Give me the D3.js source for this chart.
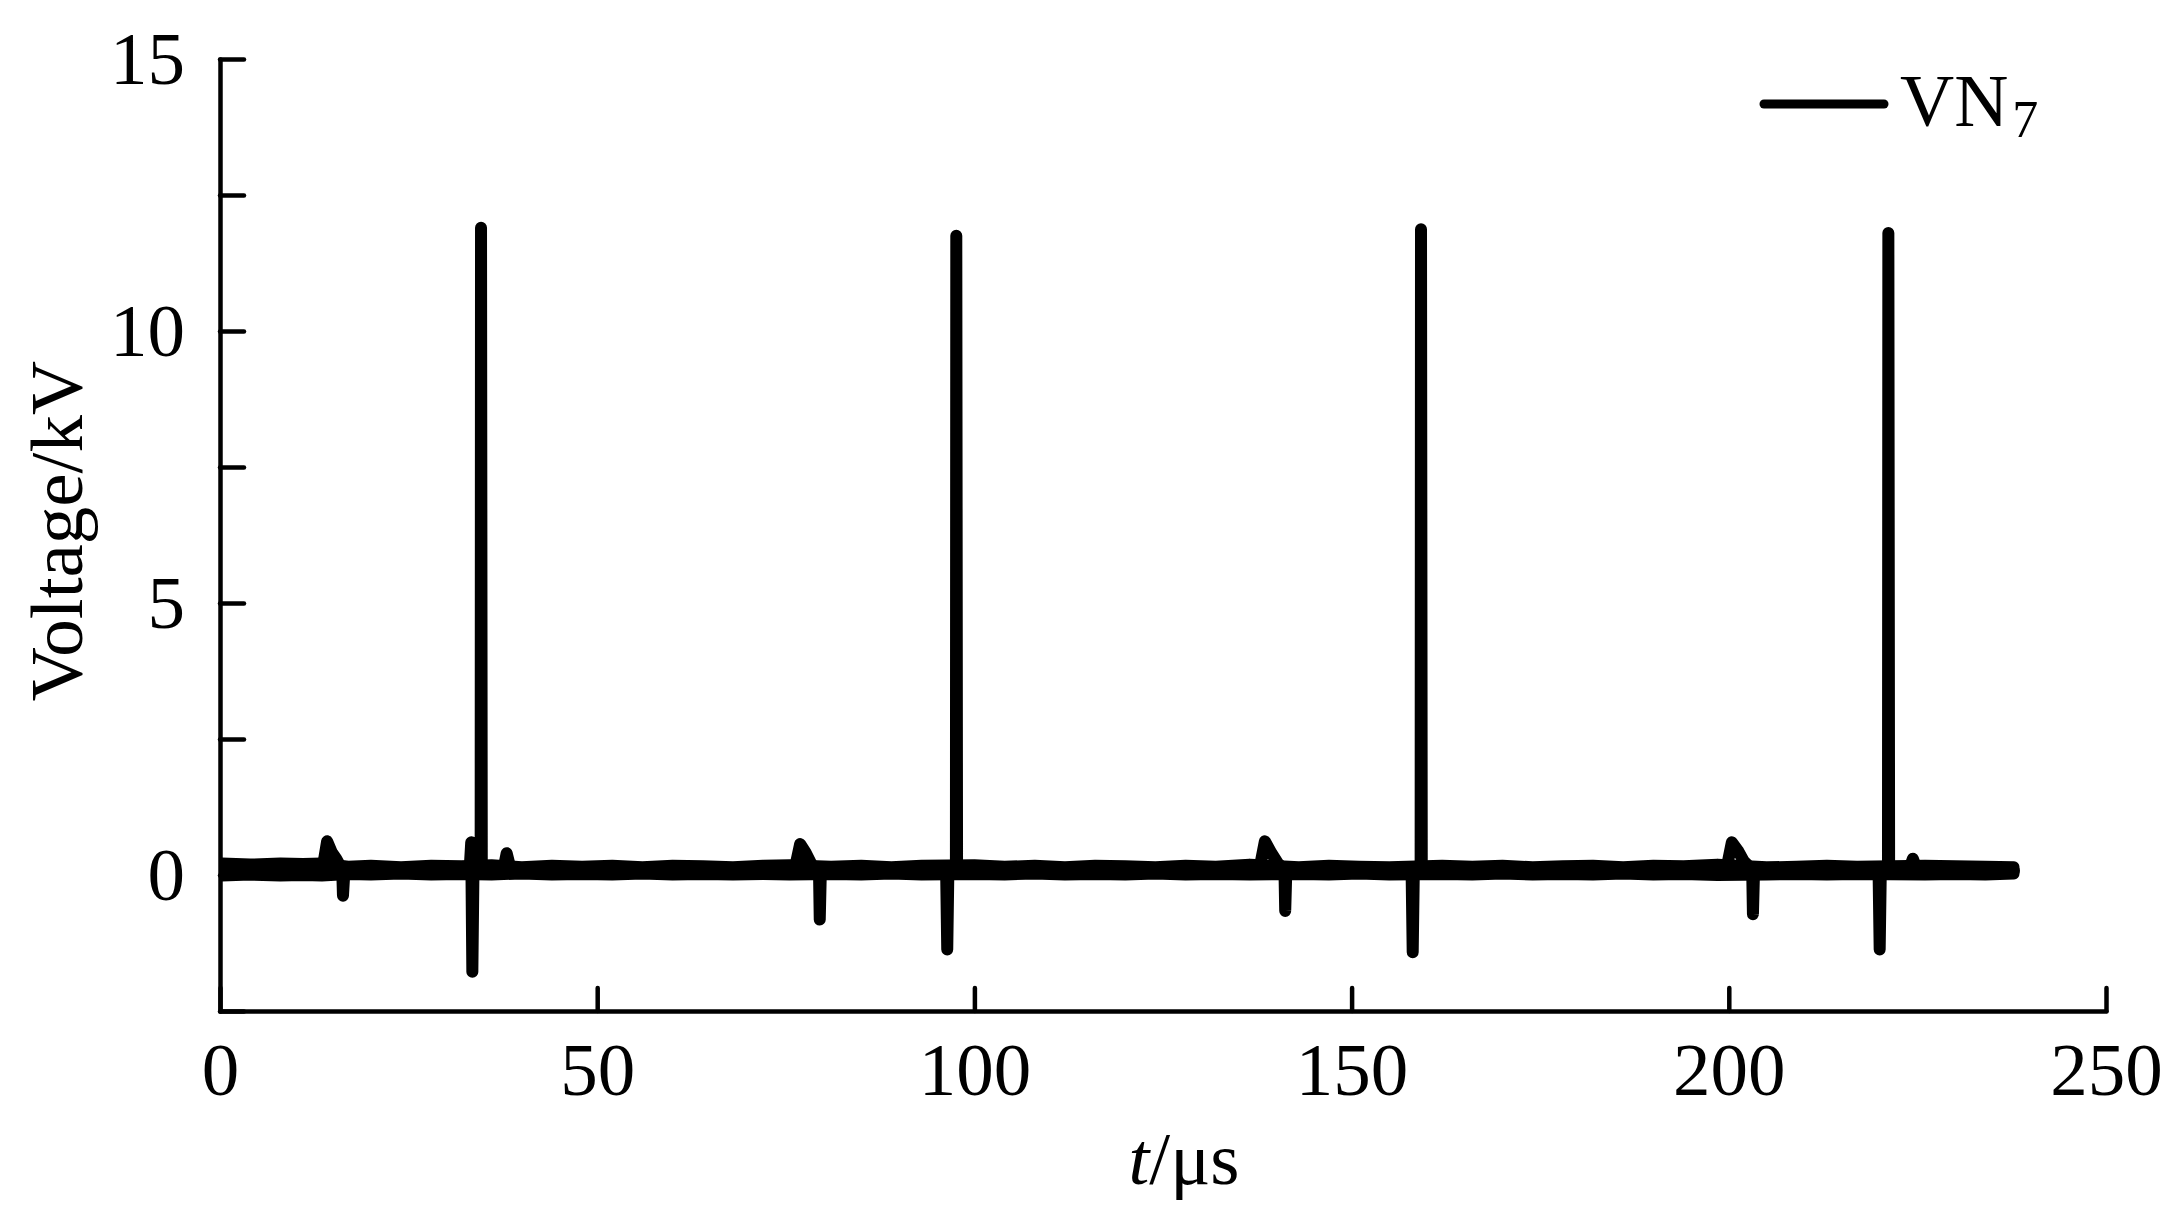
<!DOCTYPE html>
<html>
<head>
<meta charset="utf-8">
<script src="https://cdn.jsdelivr.net/npm/d3@7"></script>
<style>
  html, body { margin: 0; padding: 0; background: #fff; }
  svg { display: block; }
  text { font-family: "Liberation Serif", "Times New Roman", serif; fill: #000; }
</style>
</head>
<body>
<script>
// ---- Data ----
const timeUs = [
  0, 5, 10, 13.6, 14.2, 14.8, 15.4, 16.2, 16.3, 16.5, 20, 25, 30,
  33.1, 33.3, 33.45, 33.6, 34.55, 34.6, 34.7, 37.6, 38.0, 38.5, 45, 55, 65,
  76.2, 76.9, 77.6, 78.4, 79.4, 79.5, 79.65, 85, 90,
  96.25, 96.4, 96.55, 97.55, 97.6, 97.7, 105, 115, 125, 130,
  137.8, 138.5, 139.3, 140.2, 141.1, 141.2, 141.35, 148, 153,
  157.95, 158.1, 158.25, 159.15, 159.2, 159.3, 165, 175, 185, 192,
  199.7, 200.4, 201.2, 202.0, 203.1, 203.2, 203.35, 210, 215,
  219.85, 220.0, 220.15, 221.1, 221.15, 221.25, 223.9, 224.4, 224.9, 230, 237.8
];
const voltageKV = [
  0.12, 0.1, 0.12, 0.12, 0.62, 0.42, 0.3, 0.1, -0.38, 0.1, 0.1, 0.11, 0.1,
  0.12, 0.6, -1.78, 0.1, 0.1, 11.9, 0.1, 0.12, 0.4, 0.12, 0.1, 0.1, 0.1,
  0.12, 0.57, 0.42, 0.2, 0.1, -0.82, 0.1, 0.1, 0.1,
  0.1, -1.37, 0.1, 0.1, 11.75, 0.1, 0.1, 0.1, 0.1, 0.1,
  0.12, 0.62, 0.42, 0.22, 0.1, -0.66, 0.1, 0.1, 0.1,
  0.1, -1.42, 0.1, 0.1, 11.87, 0.1, 0.1, 0.1, 0.1, 0.1,
  0.12, 0.6, 0.45, 0.25, 0.1, -0.72, 0.1, 0.1, 0.1,
  0.1, -1.37, 0.1, 0.1, 11.8, 0.1, 0.1, 0.3, 0.1, 0.1, 0.08
];
// noise envelope of the baseline trace (upper / lower edge, kV)
const envTime = [0, 4, 8, 11, 13.5, 17, 20, 24, 28, 32, 36, 40, 44, 48, 52, 56, 60, 64, 68, 72, 75.5,
                 81, 85, 89, 93, 100, 104, 108, 112, 116, 120, 124, 128, 132, 136.5,
                 143, 147, 151, 155, 162, 166, 170, 174, 178, 182, 186, 190, 194, 198.5,
                 205, 209, 213, 217, 226, 230, 234, 237.8];
const envHigh = [0.22, 0.2, 0.22, 0.21, 0.22, 0.16, 0.18, 0.15, 0.18, 0.17, 0.19, 0.15, 0.18, 0.16, 0.18, 0.15, 0.18, 0.17, 0.15, 0.18, 0.19,
                 0.16, 0.18, 0.15, 0.18, 0.19, 0.16, 0.18, 0.15, 0.18, 0.17, 0.15, 0.18, 0.16, 0.2,
                 0.15, 0.18, 0.16, 0.15, 0.18, 0.16, 0.18, 0.15, 0.17, 0.18, 0.15, 0.18, 0.17, 0.2,
                 0.15, 0.16, 0.18, 0.16, 0.18, 0.17, 0.16, 0.15];
const envLow  = [-0.02, 0.0, -0.02, -0.01, -0.02, 0.01, 0.0, 0.02, 0.0, 0.01, 0.0, 0.02, 0.0, 0.01, 0.0, 0.02, 0.0, 0.01, 0.0, 0.01, 0.0,
                 0.01, 0.0, 0.02, 0.0, 0.01, 0.0, 0.02, 0.0, 0.01, 0.0, 0.02, 0.0, 0.01, 0.0,
                 0.01, 0.0, 0.02, 0.0, 0.01, 0.0, 0.02, 0.0, 0.01, 0.0, 0.02, 0.0, 0.01, -0.01,
                 0.0, 0.01, 0.0, 0.01, 0.0, 0.01, 0.0, 0.02];

const xTicks = [0, 50, 100, 150, 200, 250];
const yTicks = [-2.5, 0, 2.5, 5, 7.5, 10, 12.5, 15];
const yLabelled = [0, 5, 10, 15];
const seriesName = "VN";
const seriesSub = "7";

// ---- Layout ----
const W = 2164, H = 1206;
const mLeft = 220, mRight = 2106, mTop = 59, mBottom = 1011;

const svg = d3.select("body").append("svg").attr("width", W).attr("height", H);

const x = d3.scaleLinear().domain([0, 250]).range([mLeft, mRight]);
const y = d3.scaleLinear().domain([-2.5, 15]).range([mBottom, mTop]);

svg.append("defs").append("clipPath").attr("id", "plotclip")
  .append("rect").attr("x", mLeft + 2).attr("y", 0).attr("width", mRight - mLeft).attr("height", H);

const plot = svg.append("g").attr("clip-path", "url(#plotclip)");

// envelope band (noise thickness of the trace)
const envData = envTime.map((t, i) => ({ t, lo: envLow[i], hi: envHigh[i] }));
plot.append("path")
  .datum(envData)
  .attr("d", d3.area().x(d => x(d.t)).y0(d => y(d.lo)).y1(d => y(d.hi)))
  .attr("fill", "#000").attr("stroke", "#000").attr("stroke-width", 11)
  .attr("stroke-linejoin", "round").attr("stroke-linecap", "round");

// main waveform
const wave = timeUs.map((t, i) => ({ t, v: voltageKV[i] }));
plot.append("path")
  .datum(wave)
  .attr("d", d3.line().x(d => x(d.t)).y(d => y(d.v)))
  .attr("fill", "none").attr("stroke", "#000").attr("stroke-width", 12)
  .attr("stroke-linejoin", "round").attr("stroke-linecap", "round");

// ---- Axes ----
const fontSize = 75;
const yAxis = d3.axisLeft(y)
  .tickValues(yTicks)
  .tickSizeInner(-24).tickSizeOuter(0).tickPadding(35)
  .tickFormat(d => yLabelled.includes(d) ? d3.format("d")(d) : "");
const gy = svg.append("g").attr("transform", `translate(${mLeft},0)`).call(yAxis);

const xAxis = d3.axisBottom(x)
  .tickValues(xTicks)
  .tickSizeInner(-23).tickSizeOuter(0).tickPadding(31)
  .tickFormat(d3.format("d"));
const gx = svg.append("g").attr("transform", `translate(0,${mBottom})`).call(xAxis);

[gx, gy].forEach(g => {
  g.select(".domain").attr("stroke", "#000").attr("stroke-width", 4.5).attr("stroke-linecap", "round");
  g.selectAll(".tick line").attr("stroke", "#000").attr("stroke-width", 4.5).attr("stroke-linecap", "round");
  g.selectAll(".tick text")
    .style("font-family", '"Liberation Serif", "Times New Roman", serif')
    .style("font-size", fontSize + "px").attr("fill", "#000");
});

// axis titles
const xt = svg.append("text")
  .attr("x", 1184).attr("y", 1184)
  .attr("text-anchor", "middle")
  .style("font-size", fontSize + "px");
xt.append("tspan").style("font-style", "italic").text("t");
xt.append("tspan").text("/μs");

svg.append("text")
  .attr("transform", `translate(82,531) rotate(-90)`)
  .attr("text-anchor", "middle")
  .style("font-size", fontSize + "px")
  .text("Voltage/kV");

// legend
const lg = svg.append("g");
lg.append("line")
  .attr("x1", 1764).attr("x2", 1884).attr("y1", 104).attr("y2", 104)
  .attr("stroke", "#000").attr("stroke-width", 9).attr("stroke-linecap", "round");
const lt = lg.append("text").attr("x", 1900).attr("y", 126).style("font-size", fontSize + "px");
lt.append("tspan").text(seriesName);
lt.append("tspan").attr("dy", 11).attr("dx", 4).style("font-size", "52px").text(seriesSub);
</script>
</body>
</html>
